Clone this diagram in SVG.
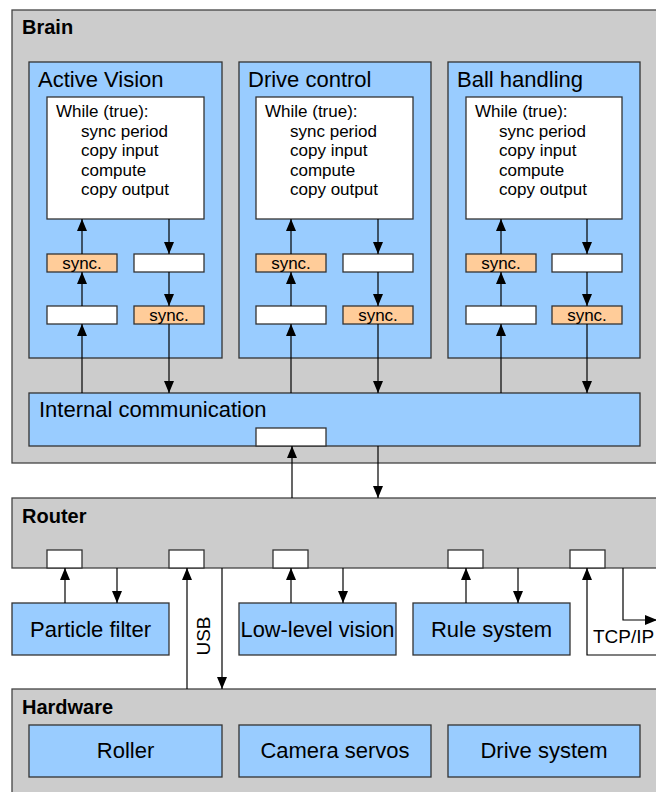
<svg xmlns="http://www.w3.org/2000/svg" width="656" height="792" viewBox="0 0 656 792">
<defs>
<marker id="ah" viewBox="0 0 12 10" refX="12" refY="5" markerWidth="12" markerHeight="10" markerUnits="userSpaceOnUse" orient="auto">
<path d="M0,0 L12,5 L0,10 z" fill="#000"/>
</marker>
<style>
.grp{fill:#cccccc;stroke:#444;stroke-width:1.3}
.blue{fill:#99ccff;stroke:#333;stroke-width:1.3}
.wht{fill:#fff;stroke:#333;stroke-width:1.3}
.org{fill:#ffcc99;stroke:#333;stroke-width:1.3}
.t{font-family:"Liberation Sans",Arial,sans-serif;fill:#000}
.bold{font-size:20px;font-weight:bold}
.title{font-size:22px}
.code{font-size:17px}
.sync{font-size:17px;text-anchor:middle}
.mid{font-size:22px;text-anchor:middle}
.c{fill:none;stroke:#000;stroke-width:1.2}
.ca{fill:none;stroke:#000;stroke-width:1.2;marker-end:url(#ah)}
</style>
</defs>

<g id="brain">
<rect class="grp" x="12" y="10" width="660" height="453"/>
<text class="t bold" x="22" y="34">Brain</text>
</g>

<g id="active-vision">
<rect class="blue" x="29" y="62" width="193" height="296"/>
<text class="t title" x="38" y="87">Active Vision</text>
<rect class="wht" x="47" y="97" width="157" height="122"/>
<text class="t code" x="56" y="117">While (true):</text>
<text class="t code" x="81" y="136.5">sync period</text>
<text class="t code" x="81" y="156">copy input</text>
<text class="t code" x="81" y="175.5">compute</text>
<text class="t code" x="81" y="195">copy output</text>
<rect class="org" x="47" y="254" width="70" height="18"/>
<text class="t sync" x="82" y="269">sync.</text>
<rect class="wht" x="134" y="254" width="70" height="18"/>
<rect class="wht" x="47" y="306" width="70" height="18"/>
<rect class="org" x="134" y="306" width="70" height="18"/>
<text class="t sync" x="169" y="321">sync.</text>
</g>

<g id="drive-control">
<rect class="blue" x="239" y="62" width="192" height="296"/>
<text class="t title" x="248" y="87">Drive control</text>
<rect class="wht" x="256" y="97" width="157" height="122"/>
<text class="t code" x="265" y="117">While (true):</text>
<text class="t code" x="290" y="136.5">sync period</text>
<text class="t code" x="290" y="156">copy input</text>
<text class="t code" x="290" y="175.5">compute</text>
<text class="t code" x="290" y="195">copy output</text>
<rect class="org" x="256" y="254" width="70" height="18"/>
<text class="t sync" x="291" y="269">sync.</text>
<rect class="wht" x="343" y="254" width="70" height="18"/>
<rect class="wht" x="256" y="306" width="70" height="18"/>
<rect class="org" x="343" y="306" width="70" height="18"/>
<text class="t sync" x="378" y="321">sync.</text>
</g>

<g id="ball-handling">
<rect class="blue" x="448" y="62" width="192" height="296"/>
<text class="t title" x="457" y="87">Ball handling</text>
<rect class="wht" x="466" y="97" width="156" height="122"/>
<text class="t code" x="475" y="117">While (true):</text>
<text class="t code" x="499" y="136.5">sync period</text>
<text class="t code" x="499" y="156">copy input</text>
<text class="t code" x="499" y="175.5">compute</text>
<text class="t code" x="499" y="195">copy output</text>
<rect class="org" x="466" y="254" width="70" height="18"/>
<text class="t sync" x="501" y="269">sync.</text>
<rect class="wht" x="552" y="254" width="70" height="18"/>
<rect class="wht" x="466" y="306" width="70" height="18"/>
<rect class="org" x="552" y="306" width="70" height="18"/>
<text class="t sync" x="587" y="321">sync.</text>
</g>

<g id="internal-communication">
<rect class="blue" x="29" y="393" width="611" height="53"/>
<text class="t title" x="39" y="417">Internal communication</text>
<rect class="wht" x="256" y="428" width="70" height="18"/>
</g>

<g id="router">
<rect class="grp" x="12" y="498" width="660" height="70"/>
<text class="t bold" x="22" y="523">Router</text>
<rect class="wht" x="47" y="550" width="35" height="18"/>
<rect class="wht" x="169" y="550" width="35" height="18"/>
<rect class="wht" x="273" y="550" width="35" height="18"/>
<rect class="wht" x="448" y="550" width="35" height="18"/>
<rect class="wht" x="570" y="550" width="35" height="18"/>
</g>

<g id="particle-filter">
<rect class="blue" x="12" y="603" width="157" height="52"/>
<text class="t mid" x="90.5" y="637">Particle filter</text>
</g>
<g id="low-level-vision">
<rect class="blue" x="239" y="603" width="157" height="52"/>
<text class="t mid" x="317.5" y="637" textLength="154" lengthAdjust="spacingAndGlyphs">Low-level vision</text>
</g>
<g id="rule-system">
<rect class="blue" x="413" y="603" width="157" height="52"/>
<text class="t mid" x="491.5" y="637">Rule system</text>
</g>

<g id="hardware">
<rect class="grp" x="12" y="689" width="660" height="120"/>
<text class="t bold" x="22" y="714">Hardware</text>
</g>
<g id="roller">
<rect class="blue" x="29" y="725" width="193" height="52"/>
<text class="t mid" x="125.5" y="758">Roller</text>
</g>
<g id="camera-servos">
<rect class="blue" x="239" y="725" width="192" height="52"/>
<text class="t mid" x="335" y="758">Camera servos</text>
</g>
<g id="drive-system">
<rect class="blue" x="448" y="725" width="192" height="52"/>
<text class="t mid" x="544" y="758">Drive system</text>
</g>

<g id="connectors">
<!-- Active Vision -->
<line class="ca" x1="82" y1="393" x2="82" y2="324"/>
<line class="ca" x1="82" y1="306" x2="82" y2="272"/>
<line class="ca" x1="82" y1="254" x2="82" y2="219"/>
<line class="ca" x1="169" y1="219" x2="169" y2="254"/>
<line class="ca" x1="169" y1="272" x2="169" y2="306"/>
<line class="ca" x1="169" y1="324" x2="169" y2="393"/>
<!-- Drive control -->
<line class="ca" x1="291" y1="393" x2="291" y2="324"/>
<line class="ca" x1="291" y1="306" x2="291" y2="272"/>
<line class="ca" x1="291" y1="254" x2="291" y2="219"/>
<line class="ca" x1="378" y1="219" x2="378" y2="254"/>
<line class="ca" x1="378" y1="272" x2="378" y2="306"/>
<line class="ca" x1="378" y1="324" x2="378" y2="393"/>
<!-- Ball handling -->
<line class="ca" x1="501" y1="393" x2="501" y2="324"/>
<line class="ca" x1="501" y1="306" x2="501" y2="272"/>
<line class="ca" x1="501" y1="254" x2="501" y2="219"/>
<line class="ca" x1="587" y1="219" x2="587" y2="254"/>
<line class="ca" x1="587" y1="272" x2="587" y2="306"/>
<line class="ca" x1="587" y1="324" x2="587" y2="393"/>
<!-- Brain <-> Router -->
<line class="ca" x1="292" y1="498" x2="292" y2="446"/>
<line class="ca" x1="378" y1="446" x2="378" y2="498"/>
<!-- Router <-> modules -->
<line class="ca" x1="65" y1="603" x2="65" y2="568"/>
<line class="ca" x1="117" y1="568" x2="117" y2="603"/>
<line class="ca" x1="291" y1="603" x2="291" y2="568"/>
<line class="ca" x1="343" y1="568" x2="343" y2="603"/>
<line class="ca" x1="466" y1="603" x2="466" y2="568"/>
<line class="ca" x1="518" y1="568" x2="518" y2="603"/>
<!-- USB -->
<line class="ca" x1="187" y1="689" x2="187" y2="568"/>
<line class="ca" x1="222" y1="568" x2="222" y2="689"/>
<text class="t" x="210" y="636" transform="rotate(-90 210 636)" style="font-size:19px;text-anchor:middle">USB</text>
<!-- TCP/IP -->
<path class="ca" d="M660,655 H587 V568"/>
<path class="ca" d="M623,568 V620 H657"/>
<text class="t" x="593" y="643" style="font-size:19px">TCP/IP</text>
</g>
</svg>
